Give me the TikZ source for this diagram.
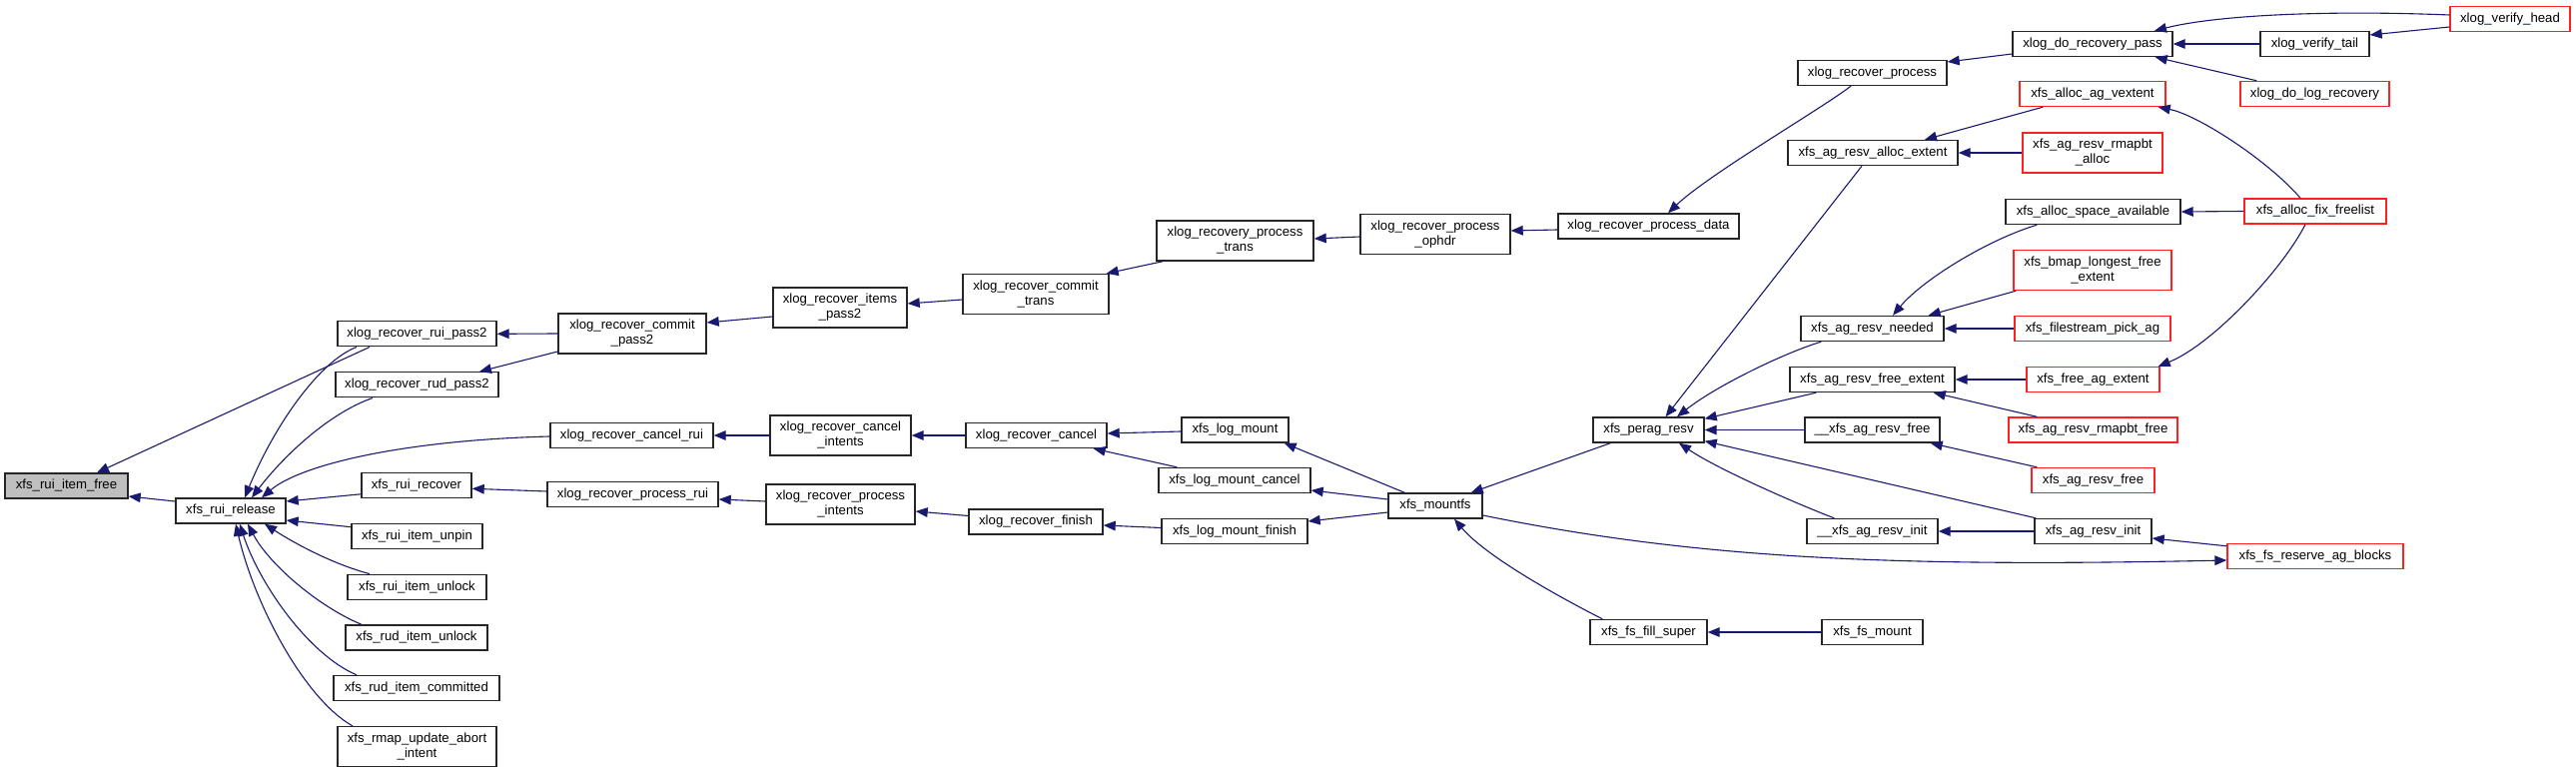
\documentclass[tikz,border=0pt]{standalone}
\usepackage{fontspec}
\setmainfont{Liberation Sans}
\usetikzlibrary{arrows.meta,calc}
\definecolor{navy}{HTML}{191970}
\definecolor{boxred}{HTML}{FF2020}
\definecolor{boxgray}{HTML}{BFBFBF}
\begin{document}
\begin{tikzpicture}[x=0.5pt,y=-0.5pt,
  box/.style={draw=black!85,line width=0.7pt,fill=white,rectangle,inner sep=0pt,
    minimum height=12.5pt,font=\fontsize{6.6}{7.5}\selectfont,align=center},
  bw/.style={minimum width=#1*0.5pt},
  dbl/.style={minimum height=20pt},
  trunc/.style={draw=boxred},
  cl/.style={draw=navy,line width=0.55pt,-{Triangle[length=6pt,width=4.8pt]},fill=none}]
\useasboundingbox (0,0) rectangle (2579,774);

% nodes
\node[box,bw=123,fill=boxgray] (free) at (66.5,486.5) {xfs\_rui\_item\_free};
\node[box,bw=110] (release) at (231,511.5) {xfs\_rui\_release};
\node[box,bw=159] (ruip2) at (417.5,334.3) {xlog\_recover\_rui\_pass2};
\node[box,bw=163] (rudp2) at (417.5,385.3) {xlog\_recover\_rud\_pass2};
\node[box,bw=110] (ruirec) at (417,486.3) {xfs\_rui\_recover};
\node[box,bw=131] (unpin) at (417.5,537.2) {xfs\_rui\_item\_unpin};
\node[box,bw=139] (unlock) at (417.5,587.8) {xfs\_rui\_item\_unlock};
\node[box,bw=142] (rudunlock) at (417,638.5) {xfs\_rud\_item\_unlock};
\node[box,bw=166] (committed) at (417,689) {xfs\_rud\_item\_committed};
\node[box,bw=159,dbl] (abort) at (417.5,747.6) {xfs\_rmap\_update\_abort\\\_intent};
\node[box,bw=148,dbl] (commitp2) at (633,334) {xlog\_recover\_commit\\\_pass2};
\node[box,bw=163] (cancelrui) at (632.5,436) {xlog\_recover\_cancel\_rui};
\node[box,bw=171] (processrui) at (633.5,495) {xlog\_recover\_process\_rui};
\node[box,bw=134,dbl] (itemsp2) at (841,308) {xlog\_recover\_items\\\_pass2};
\node[box,bw=141,dbl] (cancelint) at (841.5,436) {xlog\_recover\_cancel\\\_intents};
\node[box,bw=149,dbl] (procint) at (841.5,505) {xlog\_recover\_process\\\_intents};
\node[box,bw=146,dbl] (committrans) at (1037,294.5) {xlog\_recover\_commit\\\_trans};
\node[box,bw=141] (reccancel) at (1037.5,436) {xlog\_recover\_cancel};
\node[box,bw=134] (recfinish) at (1037,522.5) {xlog\_recover\_finish};
\node[box,bw=157,dbl] (rptrans) at (1236.5,241) {xlog\_recovery\_process\\\_trans};
\node[box,bw=107] (logmount) at (1236.5,430.5) {xfs\_log\_mount};
\node[box,bw=152] (logmountcancel) at (1236,481) {xfs\_log\_mount\_cancel};
\node[box,bw=146] (logmountfinish) at (1236,532) {xfs\_log\_mount\_finish};
\node[box,bw=150,dbl] (ophdr) at (1437,234.5) {xlog\_recover\_process\\\_ophdr};
\node[box,bw=94] (mountfs) at (1437,506.5) {xfs\_mountfs};
\node[box,bw=181] (pdata) at (1650.5,226.5) {xlog\_recover\_process\_data};
\node[box,bw=111] (peragresv) at (1650.5,430.5) {xfs\_perag\_resv};
\node[box,bw=117] (fillsuper) at (1650.5,633) {xfs\_fs\_fill\_super};
\node[box,bw=149] (xrprocess) at (1874.5,73) {xlog\_recover\_process};
\node[box,bw=170] (allocext) at (1875,153) {xfs\_ag\_resv\_alloc\_extent};
\node[box,bw=143] (needed) at (1874.5,329) {xfs\_ag\_resv\_needed};
\node[box,bw=165] (freeext) at (1874.5,380) {xfs\_ag\_resv\_free\_extent};
\node[box,bw=135] (underfree) at (1874.5,430.5) {\_\_xfs\_ag\_resv\_free};
\node[box,bw=131] (underinit) at (1874.5,532) {\_\_xfs\_ag\_resv\_init};
\node[box,bw=101] (fsmount) at (1874.5,633) {xfs\_fs\_mount};
\node[box,bw=160] (dorecpass) at (2095,44) {xlog\_do\_recovery\_pass};
\node[box,bw=146,trunc] (vextent) at (2095,94) {xfs\_alloc\_ag\_vextent};
\node[box,bw=140,dbl,trunc] (rmapbtalloc) at (2095,153) {xfs\_ag\_resv\_rmapbt\\\_alloc};
\node[box,bw=175] (spaceavail) at (2095.5,212) {xfs\_alloc\_space\_available};
\node[box,bw=158,dbl,trunc] (bmaplongest) at (2095,270.5) {xfs\_bmap\_longest\_free\\\_extent};
\node[box,bw=156,trunc] (filestream) at (2095,329) {xfs\_filestream\_pick\_ag};
\node[box,bw=133,trunc] (freeagext) at (2095.5,380) {xfs\_free\_ag\_extent};
\node[box,bw=169,trunc] (rmapbtfree) at (2095.5,430.5) {xfs\_ag\_resv\_rmapbt\_free};
\node[box,bw=123,trunc] (agresvfree) at (2095.5,481) {xfs\_ag\_resv\_free};
\node[box,bw=117] (agresvinit) at (2095.5,532) {xfs\_ag\_resv\_init};
\node[box,bw=109] (verifytail) at (2317.5,44) {xlog\_verify\_tail};
\node[box,bw=149,trunc] (dologrec) at (2317.5,94) {xlog\_do\_log\_recovery};
\node[box,bw=142,trunc] (fixfreelist) at (2318,211.5) {xfs\_alloc\_fix\_freelist};
\node[box,bw=176,trunc] (reserveag) at (2318,557) {xfs\_fs\_reserve\_ag\_blocks};
\node[box,bw=120,trunc] (verifyhead) at (2513,19) {xlog\_verify\_head};

% edges (caller -> callee)
\draw[cl] ($(ruip2.south)+(-47.5,0)$) -- ($(free.north)+(30.5,0)$);
\draw[cl] ($(release.west)+(0,-9.5)$) -- ($(free.east)+(0,10.5)$);
\draw[cl] ($(ruip2.south)+(-60.5,0)$) .. controls +(-37,14) and +(30,-73) .. ($(release.north)+(14,0)$);
\draw[cl] ($(rudp2.south)+(-44.5,0)$) .. controls +(-43,15) and +(33,-43) .. ($(release.north)+(21,0)$);
\draw[cl] ($(cancelrui.west)+(0,1)$) .. controls (400,441) and (300,466) .. ($(release.north)+(31,0)$);
\draw[cl] ($(ruirec.west)+(0,8.5)$) -- ($(release.east)+(0,-9.5)$);
\draw[cl] ($(unpin.west)+(0,-9.5)$) -- ($(release.east)+(0,9.5)$);
\draw[cl] ($(unlock.north)+(-47.5,0)$) .. controls (330,564) and (290,541) .. ($(release.south)+(34,0)$);
\draw[cl] ($(rudunlock.north)+(-55,0)$) .. controls (320,608) and (270,566) .. ($(release.south)+(17,0)$);
\draw[cl] ($(committed.north)+(-60,0)$) .. controls (310,656) and (260,586) .. ($(release.south)+(9,0)$);
\draw[cl] ($(abort.north)+(-64.5,0)$) .. controls (305,700) and (255,606) .. ($(release.south)+(5,0)$);

\draw[cl] (commitp2.west) -- (ruip2.east);
\draw[cl] ($(commitp2.west)+(0,18)$) -- ($(rudp2.north)+(62.5,0)$);
\draw[cl] ($(itemsp2.west)+(0,9)$) -- ($(commitp2.east)+(0,-11)$);
\draw[cl] ($(committrans.west)+(0,5.5)$) -- ($(itemsp2.east)+(0,-4)$);
\draw[cl] ($(rptrans.south west)+(7,0)$) -- ($(committrans.north east)+(-3,0)$);
\draw[cl] ($(ophdr.west)+(0,2.5)$) -- ($(rptrans.east)+(0,-2)$);
\draw[cl] ($(pdata.west)+(0,3.5)$) -- ($(ophdr.east)+(0,-3.5)$);
\draw[cl] ($(xrprocess.south)+(-21.5,0)$) .. controls (1825,108) and (1710,175) .. ($(pdata.north)+(19.5,0)$);

\draw[cl] ($(dorecpass.west)+(0,10)$) -- ($(xrprocess.east)+(0,-11)$);
\draw[cl] ($(verifyhead.west)+(0,-4)$) .. controls (2330,10) and (2220,15) .. ($(dorecpass.north)+(62,0)$);
\draw[cl] (verifytail.west) -- (dorecpass.east);
\draw[cl] ($(verifyhead.west)+(0,8)$) -- ($(verifytail.east)+(0,-9)$);
\draw[cl] ($(dologrec.north west)+(17,0)$) -- ($(dorecpass.south east)+(-18,0)$);

\draw[cl] ($(vextent.south west)+(24,0)$) -- ($(allocext.north)+(52,0)$);
\draw[cl] (rmapbtalloc.west) -- (allocext.east);
\draw[cl] ($(allocext.south)+(-11,0)$) -- ($(peragresv.north)+(17,0)$);
\draw[cl] ($(fixfreelist.north)+(-15,0)$) .. controls (2270,160) and (2200,115) .. ($(vextent.south east)+(-8,0)$);
\draw[cl] (fixfreelist.west) -- (spaceavail.east);
\draw[cl] ($(fixfreelist.south)+(-10,0)$) .. controls (2285,270) and (2215,345) .. ($(freeagext.north east)+(-2,0)$);
\draw[cl] ($(spaceavail.south west)+(32,0)$) .. controls (1990,240) and (1925,280) .. ($(needed.north)+(20.5,0)$);
\draw[cl] ($(bmaplongest.south west)+(3,0)$) -- ($(needed.north east)+(-16,0)$);
\draw[cl] (filestream.west) -- (needed.east);
\draw[cl] ($(needed.south west)+(21,0)$) .. controls (1790,352) and (1720,385) .. ($(peragresv.north)+(28.5,0)$);
\draw[cl] (freeagext.west) -- (freeext.east);
\draw[cl] ($(rmapbtfree.north west)+(29,0)$) -- ($(freeext.south east)+(-22,0)$);
\draw[cl] ($(freeext.south west)+(27,0)$) -- ($(peragresv.north east)+(0,2)$);
\draw[cl] (underfree.west) -- (peragresv.east);
\draw[cl] ($(agresvfree.north west)+(6,0)$) -- ($(underfree.south east)+(-10,0)$);
\draw[cl] ($(agresvinit.north west)+(2,0)$) -- ($(peragresv.south east)+(0,-2)$);
\draw[cl] ($(underinit.north west)+(28,0)$) .. controls (1800,505) and (1720,470) .. ($(peragresv.south)+(30.5,0)$);
\draw[cl] (agresvinit.west) -- (underinit.east);
\draw[cl] ($(reserveag.north west)+(0,3)$) -- ($(agresvinit.east)+(0,7)$);
\draw[cl] ($(mountfs.east)+(0,9.5)$) .. controls (1700,560) and (1900,568) .. ($(reserveag.west)+(0,4)$);

\draw[cl] ($(peragresv.south west)+(18,0)$) -- ($(mountfs.north east)+(-12,0)$);
\draw[cl] ($(fillsuper.north west)+(13,0)$) .. controls (1575,605) and (1490,560) .. ($(mountfs.south)+(19,0)$);
\draw[cl] (fsmount.west) -- (fillsuper.east);
\draw[cl] ($(mountfs.north west)+(17,0)$) -- ($(logmount.south east)+(-5,0)$);
\draw[cl] ($(mountfs.west)+(0,-6.5)$) -- ($(logmountcancel.east)+(0,10)$);
\draw[cl] ($(mountfs.west)+(0,6.5)$) -- ($(logmountfinish.east)+(0,-10)$);

\draw[cl] ($(logmount.west)+(0,1.5)$) -- ($(reccancel.east)+(0,-2)$);
\draw[cl] ($(logmountcancel.north west)+(19,0)$) -- ($(reccancel.south east)+(-14,0)$);
\draw[cl] ($(logmountfinish.west)+(0,-3.5)$) -- ($(recfinish.east)+(0,3.5)$);
\draw[cl] (reccancel.west) -- (cancelint.east);
\draw[cl] (cancelint.west) -- (cancelrui.east);
\draw[cl] ($(recfinish.west)+(0,-6)$) -- ($(procint.east)+(0,7)$);
\draw[cl] ($(procint.west)+(0,-3)$) -- ($(processrui.east)+(0,5)$);
\draw[cl] ($(processrui.west)+(0,-3)$) -- ($(ruirec.east)+(0,3)$);
\end{tikzpicture}
\end{document}
